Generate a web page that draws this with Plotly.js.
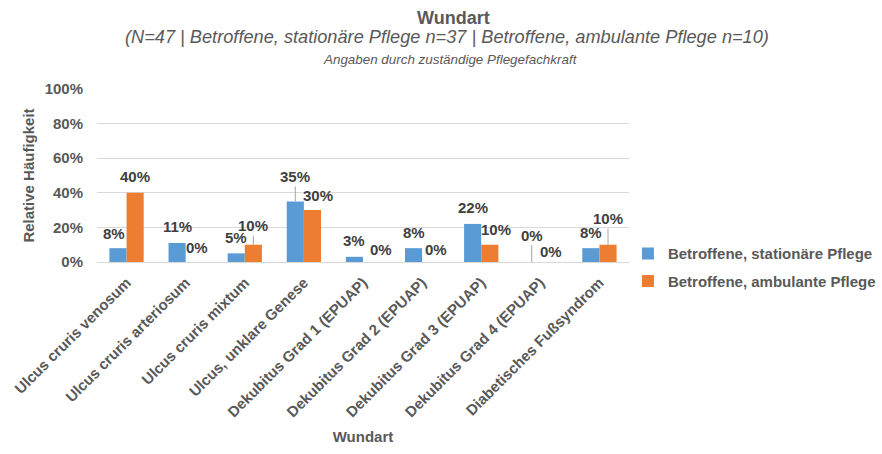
<!DOCTYPE html>
<html>
<head>
<meta charset="utf-8">
<script src="https://cdn.plot.ly/plotly-3.0.1.min.js"></script>
<style>
  html, body { margin: 0; padding: 0; background: #ffffff; }
  #chart { width: 882px; height: 454px; }
</style>
</head>
<body>
<div id="chart"></div>
<script>
// Wound types, share of affected residents per care setting (percent)
const categories = [
  'Ulcus cruris venosum',
  'Ulcus cruris arteriosum',
  'Ulcus cruris mixtum',
  'Ulcus, unklare Genese',
  'Dekubitus Grad 1 (EPUAP)',
  'Dekubitus Grad 2 (EPUAP)',
  'Dekubitus Grad 3 (EPUAP)',
  'Dekubitus Grad 4 (EPUAP)',
  'Diabetisches Fußsyndrom'
];
const stationaer = [8, 11, 5, 35, 3, 8, 22, 0, 8];
const ambulant = [40, 0, 10, 30, 0, 0, 10, 0, 10];
const seriesNames = ['Betroffene, stationäre Pflege', 'Betroffene, ambulante Pflege'];
const yTickValues = [0, 20, 40, 60, 80, 100];
const yTickLabels = ['0%', '20%', '40%', '60%', '80%', '100%'];

const chartTitle = 'Wundart';
const subTitle = '(N=47 | Betroffene, stationäre Pflege n=37 | Betroffene, ambulante Pflege n=10)';
const noteLine = 'Angaben durch zuständige Pflegefachkraft';
const xTitle = 'Wundart';
const yTitle = 'Relative Häufigkeit';

// Styling
const FONT = 'Liberation Sans, Arial, sans-serif';
const GREY = '#595959';
const LABEL_GREY = '#404040';
const COLORS = ['#5B9BD5', '#ED7D31'];
const BARGAP = 0.42;
const BAR_OFF = (1 - BARGAP) / 4;   // centre of each bar relative to its category

// Data-label placement: [dx px, lift px above bar top, leader line]
const DEFAULT_LIFT = 16;
const labelPlacement = [
  { 0: [-4, 15, false], 3: [0, 25, true], 7: [0, 27, true] },
  { 1: [3, 15, false], 2: [0, 19, true], 3: [6, 15, false], 4: [9, 13, false],
    5: [5, 13, false], 6: [6, 15, false], 7: [2, 11, false], 8: [0, 26, true] }
];

const traces = [stationaer, ambulant].map((vals, s) => ({
  type: 'bar',
  name: seriesNames[s],
  x: categories,
  y: vals,
  marker: { color: COLORS[s], line: { width: 0 } },
  legendgroup: 'g' + s,
  hoverinfo: 'skip'
}));

const labelAnnotations = [];
[stationaer, ambulant].forEach((vals, s) => {
  vals.forEach((v, i) => {
    const p = labelPlacement[s][i] || [0, DEFAULT_LIFT, false];
    labelAnnotations.push({
      xref: 'x', yref: 'y',
      x: i + (s === 0 ? -BAR_OFF : BAR_OFF),
      y: v,
      text: '<b>' + v + '%</b>',
      showarrow: true,
      arrowhead: 0,
      arrowwidth: 1,
      arrowcolor: p[2] ? '#a6a6a6' : 'rgba(0,0,0,0)',
      standoff: 0,
      ax: p[0],
      ay: -p[1],
      font: { family: FONT, size: 15, color: LABEL_GREY }
    });
  });
});

const headerAnnotations = [
  {
    xref: 'paper', yref: 'paper', x: 0.657, y: 1, yanchor: 'middle', yshift: 52,
    text: '<i>' + subTitle + '</i>', showarrow: false,
    font: { family: FONT, size: 18.2, color: GREY }
  },
  {
    xref: 'paper', yref: 'paper', x: 0.664, y: 1, yanchor: 'middle', yshift: 30,
    text: '<i>' + noteLine + '</i>', showarrow: false,
    font: { family: FONT, size: 13.4, color: GREY }
  }
];

const layout = {
  width: 882,
  height: 454,
  paper_bgcolor: '#ffffff',
  plot_bgcolor: '#ffffff',
  margin: { l: 97, r: 253, t: 89, b: 192, autoexpand: false },
  font: { family: FONT, color: GREY },
  title: {
    text: '<b>' + chartTitle + '</b>',
    x: 0.514, xanchor: 'center',
    y: 0.96, yanchor: 'middle', yref: 'container',
    font: { family: FONT, size: 18, color: GREY }
  },
  barmode: 'group',
  bargap: BARGAP,
  bargroupgap: 0,
  xaxis: {
    type: 'category',
    tickangle: -45,
    tickfont: { family: FONT, size: 15, color: GREY, weight: 'bold' },
    ticks: '',
    ticklabelstandoff: 8,
    showline: false,
    showgrid: false,
    automargin: false,
    title: { text: '<b>' + xTitle + '</b>', standoff: 12, font: { family: FONT, size: 15, color: GREY } }
  },
  yaxis: {
    range: [0, 100],
    tickvals: yTickValues,
    ticktext: yTickLabels,
    tickfont: { family: FONT, size: 15, color: GREY, weight: 'bold' },
    ticklabelstandoff: 13,
    showgrid: true,
    gridcolor: '#d9d9d9',
    gridwidth: 1,
    zeroline: true,
    zerolinecolor: '#d9d9d9',
    zerolinewidth: 1,
    showline: false,
    automargin: false,
    title: { text: '<b>' + yTitle + '</b>', standoff: 6, font: { family: FONT, size: 15, color: GREY } }
  },
  legend: {
    x: 0.998, xanchor: 'left',
    y: 0.143, yanchor: 'top',
    traceorder: 'grouped',
    tracegroupgap: 5,
    font: { family: FONT, size: 15, color: GREY, weight: 'bold' },
    bgcolor: 'rgba(0,0,0,0)'
  },
  showlegend: true,
  annotations: headerAnnotations.concat(labelAnnotations)
};

Plotly.newPlot('chart', traces, layout, { staticPlot: true, displayModeBar: false });
</script>
</body>
</html>
